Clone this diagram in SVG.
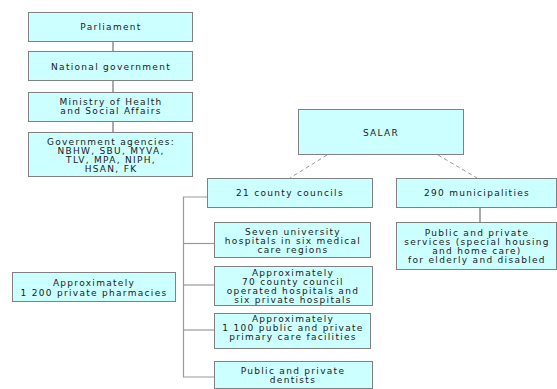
<svg xmlns="http://www.w3.org/2000/svg" width="557" height="389" viewBox="0 0 557 389">
<style>
.box{fill:#ccffff;stroke:#808080;stroke-width:1}
text{font-family:"DejaVu Sans",Verdana,sans-serif;font-size:9px;letter-spacing:1.3px;fill:#1a1a1a;text-anchor:middle}
.solid{stroke:#555;stroke-width:1;fill:none}
.tree{stroke:#999;stroke-width:1.2;fill:none}
.dash{stroke:#999;stroke-width:1;stroke-dasharray:4,3;fill:none}
</style>
<rect width="557" height="389" fill="#ffffff"/>
<g id="connectors">
<line class="solid" x1="113" y1="41" x2="113" y2="51"/>
<line class="solid" x1="113" y1="81" x2="113" y2="92"/>
<line class="solid" x1="113" y1="121" x2="113" y2="132"/>
<line class="dash" x1="327" y1="155" x2="290" y2="178"/>
<line class="dash" x1="438" y1="155" x2="477" y2="178"/>
<line class="solid" x1="480" y1="207" x2="480" y2="222"/>
<polyline class="tree" points="207,197 183.5,197 183.5,377 214,377"/>
<line class="tree" x1="183.5" y1="243.5" x2="214" y2="243.5"/>
<line class="tree" x1="183.5" y1="285" x2="214" y2="285"/>
<line class="tree" x1="183.5" y1="330" x2="214" y2="330"/>
</g>
<g id="parliament">
<rect class="box" x="28.5" y="12.5" width="164" height="29"/>
<text x="111" y="30">Parliament</text>
</g>
<g id="national-government">
<rect class="box" x="28.5" y="51.5" width="164" height="29"/>
<text x="111" y="69.5">National government</text>
</g>
<g id="ministry">
<rect class="box" x="28.5" y="92.5" width="164" height="29"/>
<text x="111" y="104.5">Ministry of Health</text>
<text x="111" y="113.7">and Social Affairs</text>
</g>
<g id="agencies">
<rect class="box" x="28.5" y="132.5" width="164" height="44"/>
<text x="111" y="144.5">Government agencies:</text>
<text x="111" y="153.7">NBHW, SBU, MYVA,</text>
<text x="111" y="162.9">TLV, MPA, NIPH,</text>
<text x="111" y="172.1">HSAN, FK</text>
</g>
<g id="salar">
<rect class="box" x="298.5" y="109.5" width="165" height="45"/>
<text x="381" y="135.5">SALAR</text>
</g>
<g id="county-councils">
<rect class="box" x="207.5" y="178.5" width="165" height="29"/>
<text x="290" y="196.3">21 county councils</text>
</g>
<g id="municipalities">
<rect class="box" x="396.5" y="178.5" width="160" height="29"/>
<text x="477" y="196.3">290 municipalities</text>
</g>
<g id="services">
<rect class="box" x="396.5" y="222.5" width="160" height="47"/>
<text x="477" y="235.5">Public and private</text>
<text x="477" y="244.7">services (special housing</text>
<text x="477" y="253.9">and home care)</text>
<text x="477" y="263.1">for elderly and disabled</text>
</g>
<g id="university-hospitals">
<rect class="box" x="214.5" y="222.5" width="156" height="35"/>
<text x="293" y="234.5">Seven university</text>
<text x="293" y="243.7">hospitals in six medical</text>
<text x="293" y="252.9">care regions</text>
</g>
<g id="county-hospitals">
<rect class="box" x="214.5" y="266.5" width="158" height="39"/>
<text x="293" y="275.7">Approximately</text>
<text x="293" y="284.9">70 county council</text>
<text x="293" y="294.1">operated hospitals and</text>
<text x="293" y="303.3">six private hospitals</text>
</g>
<g id="primary-care">
<rect class="box" x="214.5" y="313.5" width="156" height="35"/>
<text x="293" y="322">Approximately</text>
<text x="293" y="331.2">1 100 public and private</text>
<text x="293" y="340.4">primary care facilities</text>
</g>
<g id="dentists">
<rect class="box" x="214.5" y="361.5" width="158" height="27"/>
<text x="293" y="374">Public and private</text>
<text x="293" y="383.2">dentists</text>
</g>
<g id="pharmacies">
<rect class="box" x="12.5" y="272.5" width="163" height="29"/>
<text x="94" y="286.3">Approximately</text>
<text x="94" y="295.5">1 200 private pharmacies</text>
</g>
</svg>
